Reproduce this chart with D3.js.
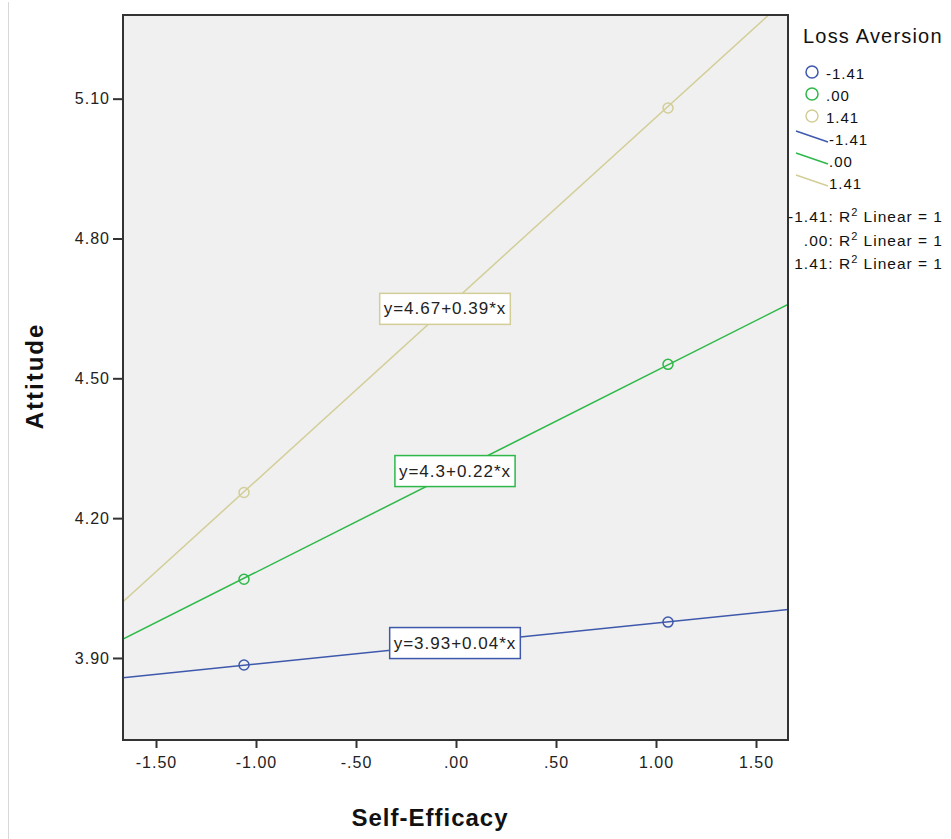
<!DOCTYPE html>
<html>
<head>
<meta charset="utf-8">
<script src="https://cdn.jsdelivr.net/npm/d3@7"></script>
<style>
html,body{margin:0;padding:0;background:#fff;}
text{font-family:"Liberation Sans",Arial,sans-serif;}
</style>
</head>
<body>
<svg id="chart" width="951" height="839"></svg>
<script>
// ---- data ----
const groups = ["-1.41", ".00", "1.41"];
const colors = ["#3E58AC", "#2EB848", "#D3CE97"];
const intercepts = [3.931, 4.3, 4.67];
const slopes = [0.044, 0.216, 0.39];
const pointX = [-1.06, 1.06];
const pointY = [[3.885, 3.977], [4.069, 4.530], [4.255, 5.080]];
const equations = ["y=3.93+0.04*x", "y=4.3+0.22*x", "y=4.67+0.39*x"];
const labelX = [-0.005, -0.005, -0.055];
const labelY = [3.932, 4.301, 4.649];
const xTicks = [-1.5, -1.0, -0.5, 0, 0.5, 1.0, 1.5];
const xTickLabels = ["-1.50", "-1.00", "-.50", ".00", ".50", "1.00", "1.50"];
const yTicks = [3.9, 4.2, 4.5, 4.8, 5.1];
const yTickLabels = ["3.90", "4.20", "4.50", "4.80", "5.10"];
const r2Labels = ["-1.41: R\u00B2 Linear = 1", ".00: R\u00B2 Linear = 1", "1.41: R\u00B2 Linear = 1"];

const svg = d3.select("#chart");
const L = 123, R = 788, T = 15, B = 740;
const x = d3.scaleLinear().domain([-1.665, 1.66]).range([L, R]);
const y = d3.scaleLinear().domain([3.724, 5.2795]).range([B, T]);

// faint left line
svg.append("line").attr("x1", 8.5).attr("x2", 8.5).attr("y1", 2).attr("y2", 839)
  .attr("stroke", "#d8d8d8").attr("stroke-width", 1);

// plot background
svg.append("rect").attr("x", L).attr("y", T).attr("width", R - L).attr("height", B - T)
  .attr("fill", "#f0f0f0");

svg.append("clipPath").attr("id", "clip").append("rect")
  .attr("x", L).attr("y", T).attr("width", R - L).attr("height", B - T);

const plot = svg.append("g").attr("clip-path", "url(#clip)");

// fit lines
groups.forEach((g, i) => {
  const x0 = x.domain()[0], x1 = x.domain()[1];
  plot.append("line")
    .attr("x1", x(x0)).attr("y1", y(intercepts[i] + slopes[i] * x0))
    .attr("x2", x(x1)).attr("y2", y(intercepts[i] + slopes[i] * x1))
    .attr("stroke", colors[i]).attr("stroke-width", 1.5);
});

// points
groups.forEach((g, i) => {
  pointX.forEach((px, j) => {
    plot.append("circle").attr("cx", x(px)).attr("cy", y(pointY[i][j])).attr("r", 5)
      .attr("fill", "none").attr("stroke", colors[i]).attr("stroke-width", 1.5);
  });
});

// equation labels
groups.forEach((g, i) => {
  const gl = plot.append("g");
  const t = gl.append("text").attr("x", x(labelX[i])).attr("y", y(labelY[i]))
    .attr("text-anchor", "middle").attr("dominant-baseline", "central")
    .attr("font-size", 17).attr("letter-spacing", 1).attr("fill", "#222").text(equations[i]);
  const bb = t.node().getBBox();
  gl.insert("rect", "text").attr("x", bb.x - 4).attr("y", bb.y - 6)
    .attr("width", bb.width + 8).attr("height", bb.height + 12)
    .attr("fill", "#fff").attr("stroke", colors[i]).attr("stroke-width", 1.5);
});

// frame
svg.append("rect").attr("x", L).attr("y", T).attr("width", R - L).attr("height", B - T)
  .attr("fill", "none").attr("stroke", "#333").attr("stroke-width", 2);

// axes
const xAxis = d3.axisBottom(x).tickValues(xTicks).tickSize(8).tickPadding(9)
  .tickFormat((d, i) => xTickLabels[i]);
const gx = svg.append("g").attr("transform", `translate(0,${B})`).call(xAxis);
gx.select(".domain").remove();
gx.selectAll(".tick line").attr("stroke", "#333").attr("stroke-width", 2);
gx.selectAll(".tick text").attr("font-size", 16).attr("letter-spacing", 1).attr("fill", "#222")
  .attr("font-family", "Liberation Sans, Arial, sans-serif");

const yAxis = d3.axisLeft(y).tickValues(yTicks).tickSize(10).tickPadding(3)
  .tickFormat((d, i) => yTickLabels[i]);
const gy = svg.append("g").attr("transform", `translate(${L},0)`).call(yAxis);
gy.select(".domain").remove();
gy.selectAll(".tick line").attr("stroke", "#333").attr("stroke-width", 2);
gy.selectAll(".tick text").attr("font-size", 16).attr("letter-spacing", 1).attr("fill", "#222")
  .attr("font-family", "Liberation Sans, Arial, sans-serif");

// axis titles
svg.append("text").attr("x", 430).attr("y", 826).attr("text-anchor", "middle")
  .attr("font-size", 24).attr("letter-spacing", 1).attr("font-weight", "bold").attr("fill", "#111").text("Self-Efficacy");
svg.append("text").attr("transform", "translate(43,376) rotate(-90)").attr("text-anchor", "middle")
  .attr("font-size", 24).attr("letter-spacing", 2).attr("font-weight", "bold").attr("fill", "#111").text("Attitude");

// legend
const lg = svg.append("g");
lg.append("text").attr("x", 803).attr("y", 43).attr("font-size", 20).attr("letter-spacing", 1.2).attr("fill", "#111").text("Loss Aversion");
groups.forEach((g, i) => {
  const cy = 72 + i * 22;
  lg.append("circle").attr("cx", 812).attr("cy", cy).attr("r", 6)
    .attr("fill", "none").attr("stroke", colors[i]).attr("stroke-width", 1.5);
  lg.append("text").attr("x", 826).attr("y", cy + 7).attr("font-size", 15).attr("letter-spacing", 1).attr("fill", "#111").text(g);
});
groups.forEach((g, i) => {
  const cy = 139 + i * 22;
  lg.append("line").attr("x1", 796).attr("y1", cy - 8).attr("x2", 828).attr("y2", cy + 3)
    .attr("stroke", colors[i]).attr("stroke-width", 1.5);
  lg.append("text").attr("x", 829).attr("y", cy + 6).attr("font-size", 15).attr("letter-spacing", 1).attr("fill", "#111").text(g);
});
r2Labels.forEach((s, i) => {
  const ty = 222 + i * 23.5;
  const parts = s.split("\u00B2");
  const t = lg.append("text").attr("x", 943).attr("y", ty).attr("text-anchor", "end")
    .attr("font-size", 15.5).attr("letter-spacing", 1).attr("fill", "#111");
  t.append("tspan").text(parts[0]);
  t.append("tspan").attr("font-size", 11).attr("dy", -6).text("2");
  t.append("tspan").attr("dy", 6).text(parts[1]);
});
</script>
</body>
</html>
